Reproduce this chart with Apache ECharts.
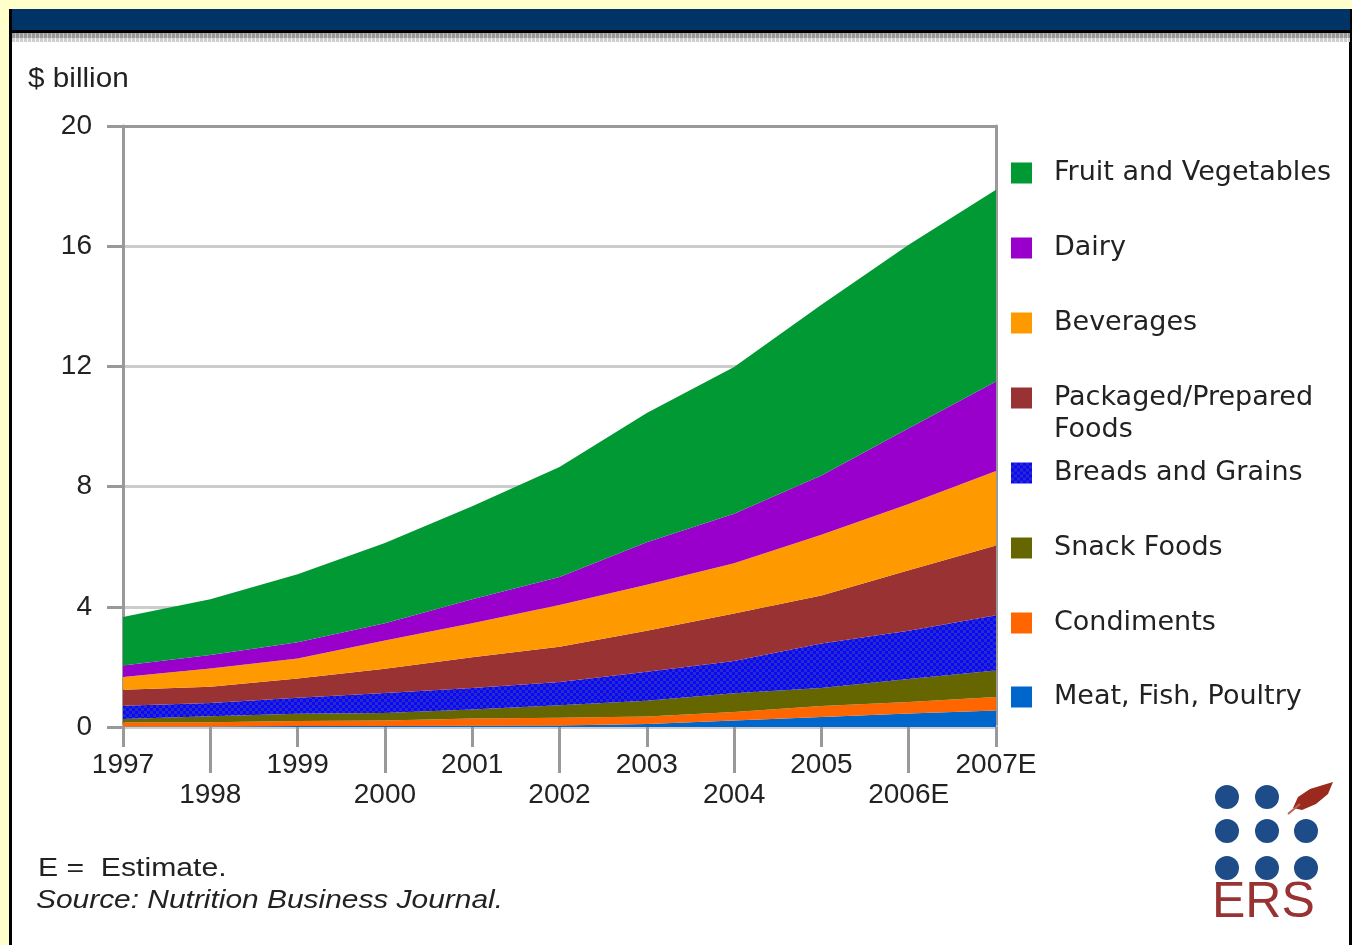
<!DOCTYPE html>
<html><head><meta charset="utf-8">
<script src="https://cdn.jsdelivr.net/npm/echarts@6/dist/echarts.min.js"></script>
<style>
html,body{margin:0;padding:0;background:#ffffcc;width:1352px;height:945px;overflow:hidden;}
.abs{position:absolute;}
#c{position:absolute;left:0;top:0;width:1352px;height:945px;}
</style>
</head><body>
<div class="abs" style="left:9px;top:9px;width:1343px;height:936px;background:#000;"></div>
<div class="abs" style="left:12px;top:9px;width:1337px;height:936px;background:#fff;"></div>
<div class="abs" style="left:12px;top:9px;width:1338px;height:21px;background:#003366;"></div>
<div class="abs" style="left:12px;top:30px;width:1338px;height:3px;background:#000;"></div>
<div class="abs" style="left:12px;top:33px;width:1338px;height:5px;background:repeating-linear-gradient(90deg,#999 0,#999 3px,#c4c4c4 3px,#c4c4c4 4px);"></div>
<div class="abs" style="left:12px;top:38px;width:1338px;height:4px;background:repeating-linear-gradient(90deg,#cfcfcf 0,#cfcfcf 3px,#f2f2f2 3px,#f2f2f2 4px);"></div>
<div id="c"></div>
<script>
const years = ['1997','1998','1999','2000','2001','2002','2003','2004','2005','2006E','2007E'];
const yTicks = [0, 4, 8, 12, 16, 20];
const meatFishPoultry = [0.02,0.02,0.03,0.03,0.04,0.05,0.10,0.22,0.33,0.45,0.55];
const condiments      = [0.13,0.14,0.17,0.19,0.24,0.26,0.25,0.28,0.37,0.38,0.45];
const snackFoods      = [0.12,0.20,0.24,0.25,0.30,0.41,0.52,0.62,0.60,0.77,0.88];
const breadsGrains    = [0.44,0.44,0.53,0.66,0.72,0.78,0.97,1.08,1.48,1.60,1.84];
const packagedFoods   = [0.53,0.54,0.64,0.81,1.02,1.17,1.36,1.58,1.60,2.02,2.32];
const beverages       = [0.42,0.61,0.67,0.94,1.13,1.39,1.53,1.67,2.02,2.20,2.48];
const dairy           = [0.39,0.45,0.54,0.57,0.80,0.93,1.42,1.65,1.97,2.52,2.98];
const fruitVeg        = [1.61,1.85,2.26,2.67,3.10,3.66,4.30,4.88,5.68,6.11,6.38];
const seriesNames = ['Meat, Fish, Poultry','Condiments','Snack Foods','Breads and Grains','Packaged/Prepared Foods','Beverages','Dairy','Fruit and Vegetables'];
const seriesData = [meatFishPoultry, condiments, snackFoods, breadsGrains, packagedFoods, beverages, dairy, fruitVeg];

function checker(){
  const cv = document.createElement('canvas'); cv.width = 6; cv.height = 6;
  const g = cv.getContext('2d');
  g.fillStyle = '#2a2ac4'; g.fillRect(0,0,6,6);
  g.fillStyle = '#0808ff'; g.fillRect(0,0,3,3); g.fillRect(3,3,3,3);
  return cv;
}
const breadPattern = {image: checker(), repeat: 'repeat'};
const colors = ['#0066cc','#ff6600','#666600', breadPattern,'#993333','#ff9900','#9900cc','#009933'];

const chart = echarts.init(document.getElementById('c'));
const FONT = 'Liberation Sans, Arial, sans-serif';

const series = seriesNames.map((n, i) => ({
  name: n, type: 'line', stack: 'total', data: seriesData[i],
  xAxisIndex: 0, yAxisIndex: 0,
  showSymbol: false, symbol: 'none', smooth: false,
  lineStyle: {width: 0},
  itemStyle: {color: colors[i]},
  areaStyle: {color: colors[i], opacity: 1},
  emphasis: {disabled: true}, silent: true
}));

const legendOrder = ['Fruit and Vegetables','Dairy','Beverages','Packaged/Prepared Foods','Breads and Grains','Snack Foods','Condiments','Meat, Fish, Poultry'];
const legendCenters = [170, 245, 320, 395, 470, 545, 620, 694];
const legends = legendOrder.map((n, i) => {
  const two = n === 'Packaged/Prepared Foods';
  return {
    data: [n], orient: 'vertical', left: 1006,
    top: two ? legendCenters[i] - 50 : legendCenters[i] - 18,
    icon: 'rect', itemWidth: 21, itemHeight: 21,
    selectedMode: false,
    formatter: two ? '\u200b\nPackaged/Prepared\nFoods' : '{name}',
    textStyle: {fontFamily: 'DejaVu Sans', fontSize: 27, color: '#222', lineHeight: 32,
      padding: [0, 0, 0, 17]}
  };
});

const axisFont = {fontFamily: FONT, fontSize: 28, color: '#222'};

chart.setOption({
  animation: false,
  grid: {left: 123, right: 356, top: 126, bottom: 218, show: false},
  legend: legends,
  xAxis: [{
    type: 'category', data: years, boundaryGap: false, position: 'bottom',
    axisLine: {lineStyle: {color: '#ccc', width: 4}},
    axisTick: {show: true, length: 20, interval: (idx) => idx % 2 === 0, lineStyle: {color: '#999', width: 3}},
    axisLabel: Object.assign({interval: (idx) => idx % 2 === 0, margin: 24}, axisFont),
    splitLine: {show: false}
  }, {
    type: 'category', data: years, boundaryGap: false, position: 'bottom',
    axisLine: {show: false},
    axisTick: {show: true, length: 46, interval: (idx) => idx % 2 === 1, lineStyle: {color: '#999', width: 3}},
    axisLabel: Object.assign({interval: (idx) => idx % 2 === 1, margin: 54}, axisFont),
    splitLine: {show: false}
  }, {
    type: 'category', data: years, boundaryGap: false, position: 'top',
    axisLine: {show: true, lineStyle: {color: '#999', width: 3}},
    axisTick: {show: false}, axisLabel: {show: false}, splitLine: {show: false}
  }],
  yAxis: [{
    type: 'value', min: yTicks[0], max: yTicks[yTicks.length - 1], interval: yTicks[1] - yTicks[0],
    axisLine: {show: true, lineStyle: {color: '#999', width: 3}},
    axisTick: {show: true, length: 16, lineStyle: {color: '#999', width: 3}},
    axisLabel: Object.assign({margin: 31}, axisFont),
    splitLine: {show: true, lineStyle: {color: '#ccc', width: 3}}
  }, {
    type: 'value', min: yTicks[0], max: yTicks[yTicks.length - 1], interval: yTicks[1] - yTicks[0],
    position: 'right',
    axisLine: {show: true, lineStyle: {color: '#999', width: 3}},
    axisTick: {show: false}, axisLabel: {show: false}, splitLine: {show: false}
  }],
  series: series,
  graphic: [
    {type: 'text', x: 28, y: 66, scaleX: 1.1, style: {text: '$ billion', font: '27px ' + FONT, fill: '#222'}},
    {type: 'text', x: 38, y: 856, scaleX: 1.16, style: {text: 'E =  Estimate.', font: '26px ' + FONT, fill: '#222'}},
    {type: 'text', x: 36, y: 888, scaleX: 1.15, style: {text: 'Source: Nutrition Business Journal.', font: 'italic 26px ' + FONT, fill: '#222'}},
    {type: 'circle', shape: {cx: 1227, cy: 797, r: 12}, style: {fill: '#1d4c88'}},
    {type: 'circle', shape: {cx: 1267, cy: 797, r: 12}, style: {fill: '#1d4c88'}},
    {type: 'circle', shape: {cx: 1227, cy: 831, r: 12}, style: {fill: '#1d4c88'}},
    {type: 'circle', shape: {cx: 1267, cy: 831, r: 12}, style: {fill: '#1d4c88'}},
    {type: 'circle', shape: {cx: 1306, cy: 831, r: 12}, style: {fill: '#1d4c88'}},
    {type: 'circle', shape: {cx: 1227, cy: 868, r: 12}, style: {fill: '#1d4c88'}},
    {type: 'circle', shape: {cx: 1267, cy: 868, r: 12}, style: {fill: '#1d4c88'}},
    {type: 'circle', shape: {cx: 1306, cy: 868, r: 12}, style: {fill: '#1d4c88'}},
    {type: 'polygon', shape: {points: [[1293,808],[1298,797],[1310,789],[1323,785],[1333,782],[1328,794],[1316,804],[1302,810]]}, style: {fill: '#9a2a1e'}},
    {type: 'line', shape: {x1: 1288, y1: 814, x2: 1300, y2: 804}, style: {stroke: '#c0605a', lineWidth: 2}},
    {type: 'text', left: 1212, top: 878, style: {text: 'ERS', font: '50px ' + FONT, fill: '#993333'}}
  ]
});
</script>
</body></html>
